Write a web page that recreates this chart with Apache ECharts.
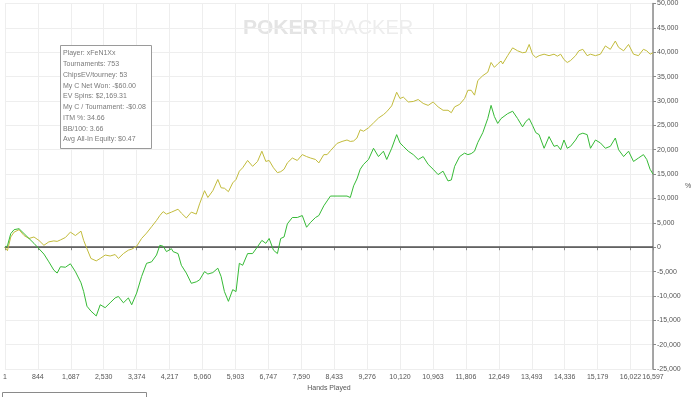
<!DOCTYPE html>
<html>
<head>
<meta charset="utf-8">
<script src="https://cdn.jsdelivr.net/npm/echarts@6/dist/echarts.min.js"></script>
<style>
html,body{margin:0;padding:0;background:#fff;}
#chart{width:700px;height:397px;}
</style>
</head>
<body>
<div id="chart"></div>
<script>
// ---- data ----
const hands = [
  1,64,149,234,361,489,616,743,870,998,1125,1252,1337,1422,1549,1676,1804,1948,2016,2100,
  2202,2338,2440,2567,2694,2822,2906,3034,3161,3246,3373,3500,3627,3755,3882,3967,4052,4137,4264,
  4306,4433,4518,4645,4773,4900,4985,5112,5197,5324,5452,5536,5621,5723,5833,5918,6003,6088,6215,6342,
  6469,6580,6681,6766,6877,6978,7063,7148,7233,7360,7487,7615,7725,7827,7954,8039,8166,8251,8336,
  8378,8506,8633,8760,8845,8930,9014,9099,9184,9311,9439,9566,9693,9778,9905,10032,10117,10202,10329,10457,
  10584,10711,10838,10966,11093,11220,11347,11432,11517,11644,11771,11856,11941,12026,12111,12238,12365,12450,12535,12620,12705,
  12747,12874,13002,13129,13256,13341,13426,13511,13596,13680,13808,13935,14062,14147,14232,14317,14401,14486,14614,14698,
  14800,14911,14996,15123,15250,15377,15504,15632,15716,15844,15971,16098,16225,16352,16437,16522,16597
];
const evWinnings = [
  0,-700,2100,3100,3600,2400,1800,2100,1400,400,1100,1300,1200,1500,2000,3100,2400,3300,1400,-300,
  -2300,-2800,-2300,-1600,-1800,-1500,-2300,-1300,-600,-400,200,1800,2900,4200,5500,6500,7300,6800,7200,
  6800,7800,7000,6000,7200,6800,8900,11600,10200,11600,13900,12200,12100,11400,13200,13900,15600,16300,17800,16600,
  17600,19700,17600,17800,16300,15300,15500,16000,17300,18300,17800,19000,18600,18300,18000,17300,19000,19000,19800,
  20000,21300,21700,22000,21700,21800,22400,24100,23800,24500,25500,26500,27200,27800,29000,31800,30500,30800,29800,29900,
  30300,29500,29100,29800,28800,28100,28100,27600,28800,29300,30500,32200,32200,31200,34200,35200,35900,37900,36900,37600,38200,
  37600,39300,40900,40300,39900,40000,41600,39600,38900,39300,39600,39300,39600,39200,39600,38500,37900,38300,39300,40300,
  40600,39300,39600,39300,39600,41300,40600,42300,41000,40300,41600,39600,39300,40600,40300,39600,39900
];
const netWon = [
  0,300,2800,3600,3800,2800,1800,800,-300,-1400,-3000,-4700,-5300,-4000,-4100,-3400,-5000,-7300,-9100,-12100,
  -13100,-14100,-11800,-12400,-11400,-10400,-10100,-11400,-10400,-11800,-9400,-6000,-3300,-3000,-1600,400,200,-900,-300,
  -900,-1300,-3700,-5300,-7400,-7100,-6700,-5000,-5500,-5200,-4300,-6000,-9100,-11100,-8700,-9100,-3300,-3700,-1300,-1300,
  100,1400,800,1800,-600,-1300,1800,2100,4800,6100,6100,6500,4100,5100,6100,6500,8500,9500,10500,
  10900,10500,10500,10500,10200,12600,14000,16000,17000,18000,20300,18600,19700,18000,20300,23100,21400,20700,19700,19000,
  18000,18600,17000,16000,14900,15600,13600,13800,16600,18600,19300,19000,19200,19700,21500,23500,26400,29100,26800,25400,26400,
  26800,27400,27900,26400,24700,25800,26400,25000,23500,23100,20300,22700,20700,20900,20000,22000,20300,20700,22000,23100,
  23400,23100,20300,22000,21400,20300,20700,22400,20000,18600,19700,17600,18300,19000,18000,16000,15000
];
const xTickLabels = ['1','844','1,687','2,530','3,374','4,217','5,060','5,903','6,747','7,590','8,433',
  '9,276','10,120','10,963','11,806','12,649','13,493','14,336','15,179','16,022','16,597'];
const xMax = 16597;
const xStep = 843.26;
const infoLines = ['Player: xFeN1Xx','Tournaments: 753','ChipsEV/tourney: 53','My C Net Won: -$60.00',
  'EV Spins: $2,169.31','My C / Tournament: -$0.08','ITM %: 34.66','BB/100: 3.66','Avg All-In Equity: $0.47'];

const FONT = 'Liberation Sans';
const chart = echarts.init(document.getElementById('chart'), null, {renderer:'canvas'});

const infoGraphics = infoLines.map((t, i) => ({
  type:'text', x: 63, y: 53.5 + i*10.75, z:20,
  style:{text:t, fill:'#7a7a7a', fontSize:7, fontFamily:FONT, verticalAlign:'middle', align:'left'}
}));

chart.setOption({
  animation:false,
  backgroundColor:'#fff',
  grid:{left:1, right:47, top:0, bottom:27, containLabel:false},
  xAxis:{
    type:'value', min:0, max:xMax, interval:xStep,
    name:'Hands Played', nameLocation:'middle', nameGap:13,
    nameTextStyle:{color:'#555', fontSize:7, fontFamily:FONT},
    axisLine:{show:true, lineStyle:{color:'#8a8a8a', width:1}},
    axisTick:{show:true, length:3, lineStyle:{color:'#8a8a8a'}},
    axisLabel:{
      color:'#555', fontSize:7, fontFamily:FONT, margin:4, interval:0,
      showMinLabel:true, showMaxLabel:true,
      formatter:function(v){ return v >= xMax ? xTickLabels[xTickLabels.length-1] : xTickLabels[Math.round(v/xStep)]; }
    },
    splitLine:{show:true, lineStyle:{color:'#eeeeee', width:1}}
  },
  yAxis:{
    type:'value', position:'right', min:-25000, max:50000, interval:5000,
    axisLine:{show:true, onZero:false, lineStyle:{color:'#8a8a8a', width:1.5}},
    axisTick:{show:true, length:3, lineStyle:{color:'#8a8a8a'}},
    axisLabel:{color:'#555', fontSize:7, fontFamily:FONT, margin:4,
      formatter:function(v){ return v.toLocaleString('en-US'); }},
    splitLine:{show:true, lineStyle:{color:'#eeeeee', width:1}}
  },
  series:[
    {
      name:'EV', type:'line', showSymbol:false, symbol:'none',
      data: hands.map((h,i)=>[h, evWinnings[i]]),
      lineStyle:{color:'#c2bb3c', width:1}, itemStyle:{color:'#c2bb3c'},
      z:3,
      markLine:{silent:true, symbol:'none', label:{show:false},
        lineStyle:{color:'#555', width:1.5, type:'solid'},
        data:[{yAxis:0}], z:2}
    },
    {
      name:'Net Won', type:'line', showSymbol:false, symbol:'none',
      data: hands.map((h,i)=>[h, netWon[i]]),
      lineStyle:{color:'#36ba36', width:1}, itemStyle:{color:'#36ba36'},
      z:4
    }
  ],
  graphic:[
    {type:'text', x:243, y:28, z:0,
      style:{rich:{a:{fill:'#e4e4e4', fontSize:21, fontWeight:'bold', fontFamily:FONT},
                   b:{fill:'#ededed', fontSize:20, fontFamily:FONT}},
        text:'{a|POKER}{b|TRACKER}', verticalAlign:'middle'}},
    {type:'rect', shape:{x:60.5, y:45.5, width:91, height:103}, style:{fill:'#fff', stroke:'#9a9a9a', lineWidth:1}, z:10}
  ].concat(infoGraphics).concat([
    {type:'text', x:685, y:186, style:{text:'%', fill:'#555', fontSize:7, fontFamily:FONT, verticalAlign:'middle'}},
    {type:'rect', shape:{x:2.5, y:392.5, width:144, height:10}, style:{fill:'none', stroke:'#8a8a8a', lineWidth:1}}
  ])
});
</script>
</body>
</html>
